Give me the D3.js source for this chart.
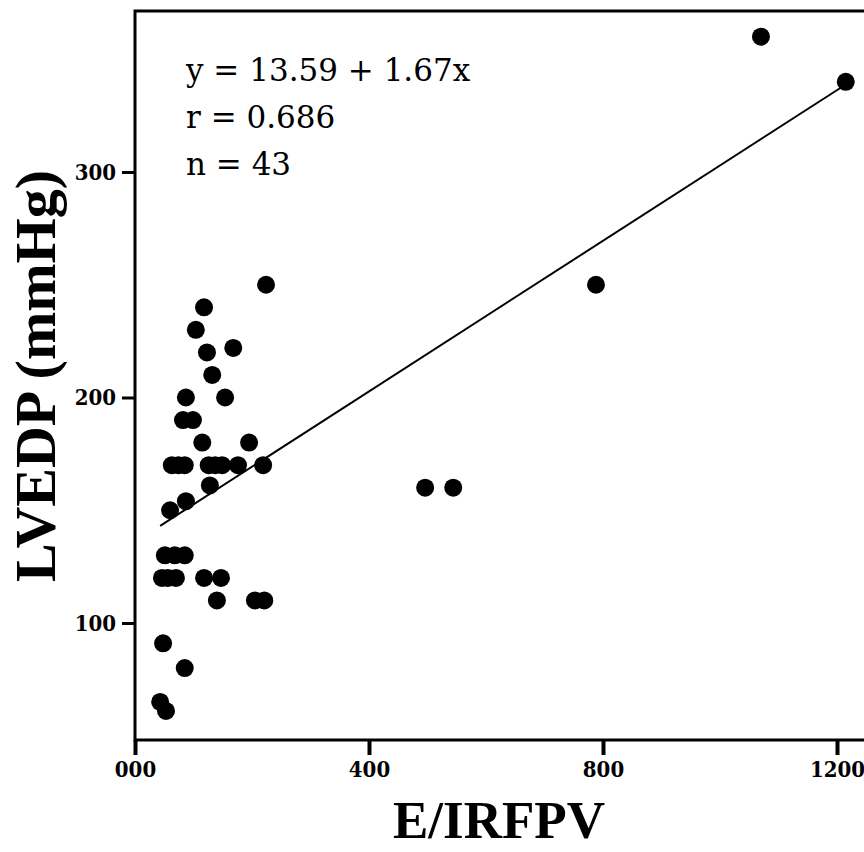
<!DOCTYPE html>
<html>
<head>
<meta charset="utf-8">
<script src="https://cdn.jsdelivr.net/npm/d3@7"></script>
<style>
  html, body { margin: 0; padding: 0; background: #fff; }
  svg { display: block; }
  .tick text { font-family: "DejaVu Serif Condensed", "DejaVu Serif", serif; font-stretch: condensed; font-weight: bold; }
</style>
</head>
<body>
<svg id="chart" width="864" height="852"></svg>
<script>
// E/IRFPV ratio (x) and LVEDP in mmHg (y), one pair per patient
const eIrfpv = [
  10.70, 12.15, 7.88, 2.24, 1.18, 1.04, 1.23, 1.68, 1.32, 0.87,
  1.54, 0.82, 0.99, 1.15, 1.95, 0.63, 0.85, 1.26, 1.49, 1.76,
  2.19, 1.28, 0.60, 0.87, 0.51, 0.85, 0.46, 0.70, 1.18, 1.47,
  1.40, 2.05, 2.21, 0.48, 0.85, 0.43, 0.53, 4.96, 5.44, 0.56,
  1.37, 0.74, 0.68
];
const lvedp = [
  36.0, 34.0, 25.0, 25.0, 24.0, 23.0, 22.0, 22.2, 21.0, 20.0,
  20.0, 19.0, 19.0, 18.0, 18.0, 17.0, 17.0, 17.0, 17.0, 17.0,
  17.0, 16.1, 15.0, 15.4, 13.0, 13.0, 12.0, 12.0, 12.0, 12.0,
  11.0, 11.0, 11.0, 9.1, 8.0, 6.5, 6.1, 16.0, 16.0, 12.0,
  17.0, 17.0, 13.0
];

// Fitted line y = a + b x and its statistics
const fitIntercept = 13.59;
const fitSlope = 1.67;
const fitR = 0.686;

const xTickValues = [0, 4, 8, 12];
const xTickLabels = ["000", "400", "800", "1200"];
const yTickValues = [10, 20, 30];
const yTickLabels = ["100", "200", "300"];

const points = eIrfpv.map((v, i) => ({ x: v, y: lvedp[i] }));

const svg = d3.select("#chart");
const plot = { left: 135, right: 900, top: 11, bottom: 740 };

const x = d3.scaleLinear().domain([0, 12]).range([135, 837]);
const y = d3.scaleLinear().domain([10, 30]).range([623, 172]);

// frame: left, top, bottom (the right side runs past the edge)
const frame = svg.append("g").attr("stroke", "#000").attr("stroke-width", 3).attr("fill", "none");
frame.append("path")
  .attr("d", `M${plot.right},${plot.top}H${plot.left}V${plot.bottom}H${plot.right}`);

// x axis
const xAxis = svg.append("g")
  .attr("transform", `translate(0,${plot.bottom})`)
  .call(d3.axisBottom(x).tickValues(xTickValues)
    .tickFormat((d, i) => xTickLabels[i]).tickSize(15).tickPadding(6));
xAxis.select(".domain").remove();
xAxis.selectAll(".tick line").attr("stroke", "#000").attr("stroke-width", 4);
xAxis.selectAll(".tick text").attr("font-size", 22).attr("fill", "#000");

// y axis
const yAxis = svg.append("g")
  .attr("transform", `translate(${plot.left},0)`)
  .call(d3.axisLeft(y).tickValues(yTickValues)
    .tickFormat((d, i) => yTickLabels[i]).tickSize(13).tickPadding(6));
yAxis.select(".domain").remove();
yAxis.selectAll(".tick line").attr("stroke", "#000").attr("stroke-width", 3);
yAxis.selectAll(".tick text").attr("font-size", 22).attr("fill", "#000");

// regression line across the observed range of x
const xExtent = d3.extent(eIrfpv);
svg.append("line")
  .attr("x1", x(xExtent[0])).attr("y1", y(fitIntercept + fitSlope * xExtent[0]))
  .attr("x2", x(xExtent[1])).attr("y2", y(fitIntercept + fitSlope * xExtent[1]))
  .attr("stroke", "#000").attr("stroke-width", 2);

// data points
svg.append("g").selectAll("circle")
  .data(points)
  .join("circle")
  .attr("cx", d => x(d.x))
  .attr("cy", d => y(d.y))
  .attr("r", 9)
  .attr("fill", "#000");

// fit statistics
const stats = [
  `y = ${fitIntercept.toFixed(2)} + ${fitSlope.toFixed(2)}x`,
  `r = ${fitR.toFixed(3)}`,
  `n = ${points.length}`
];
svg.append("g").selectAll("text")
  .data(stats)
  .join("text")
  .attr("x", 186)
  .attr("y", (d, i) => 81 + i * 47)
  .attr("font-family", "'DejaVu Serif', serif")
  .attr("font-size", 31)
  .attr("fill", "#000")
  .text(d => d);

// axis titles
svg.append("text")
  .attr("x", 499).attr("y", 838)
  .attr("text-anchor", "middle")
  .attr("font-family", "'Liberation Serif', 'Times New Roman', serif")
  .attr("font-weight", "bold")
  .attr("font-size", 53)
  .attr("fill", "#000")
  .text("E/IRFPV");

svg.append("text")
  .attr("transform", "translate(55,376) rotate(-90)")
  .attr("text-anchor", "middle")
  .attr("font-family", "'Liberation Serif', 'Times New Roman', serif")
  .attr("font-weight", "bold")
  .attr("font-size", 58)
  .attr("fill", "#000")
  .text("LVEDP (mmHg)");
</script>
</body>
</html>
